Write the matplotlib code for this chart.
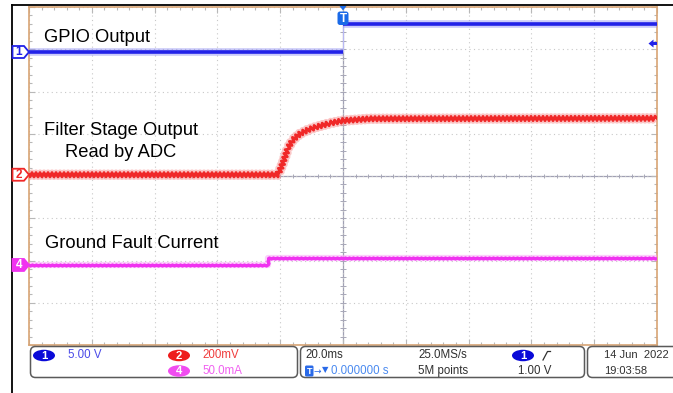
import matplotlib
matplotlib.use('Agg')
import matplotlib.pyplot as plt
import numpy as np
from matplotlib.patches import FancyBboxPatch, Polygon, Ellipse, Rectangle

# ---------------- data ----------------
ch1_time_ms = [-100.0, 0.0, 100.0]          # GPIO output (step at trigger)
ch1_volts = [0.0, 3.3, 3.3]

ch2_time_ms = [-100.0, -20.7, -19.1, -17.5, -15.9, -13.7, -11.1, -8.3, -4.1, 0.0, 8.6, 100.0]
ch2_mv = [0.0, 0.0, 57.0, 128.0, 166.0, 194.0, 213.0, 227.0, 244.0, 256.0, 265.0, 267.0]

ch4_time_ms = [-100.0, -23.9, 100.0]        # ground fault current
ch4_ma = [0.0, 7.7, 7.7]

time_per_div_ms = 20.0
ch1_v_per_div = 5.0
ch2_mv_per_div = 200.0
ch4_ma_per_div = 50.0
ch1_pos_div = 2.935
ch2_pos_div = 0.03
ch4_pos_div = -2.106
trigger_level_v = 1.0

W, H = 673, 393
BLUE = '#2222e8'
RED = '#f02828'
MAG = '#f032f0'
FONT = 'Liberation Sans'

fig = plt.figure(figsize=(W / 100, H / 100), dpi=100)
fig.patch.set_facecolor('white')

# ---------------- graticule ----------------
gl, gr, gt, gb = 29, 657, 7, 345
ax = fig.add_axes([gl / W, (H - gb) / H, (gr - gl) / W, (gb - gt) / H])
ax.set_xlim(-5 * time_per_div_ms, 5 * time_per_div_ms)
ax.set_ylim(-4, 4)
ax.set_xticks(np.arange(-5, 6) * time_per_div_ms)
ax.set_yticks(np.arange(-4, 5))
ax.set_xticks(np.arange(-25, 26) * time_per_div_ms / 5, minor=True)
ax.set_yticks(np.arange(-20, 21) / 5, minor=True)
ax.tick_params(which='both', direction='in', top=True, right=True,
               labelbottom=False, labelleft=False, color='#b8b8b8', width=0.8)
ax.tick_params(which='major', length=4)
ax.tick_params(which='minor', length=2)
ax.grid(True, which='major', color='#c8c8c8', ls=(0, (1, 3)), lw=0.8)
for s in ax.spines.values():
    s.set_color('#d8a474')
    s.set_linewidth(1.2)

ax.axhline(0, color='#a0a0b4', lw=0.9, zorder=1)
ax.axvline(0, color='#a0a0b4', lw=0.9, zorder=1)
ax.vlines(np.arange(-25, 26) * time_per_div_ms / 5, -0.05, 0.05, color='#a8a8b8', lw=0.7)
ax.hlines(np.arange(-20, 21) / 5, -0.8, 0.8, color='#a8a8b8', lw=0.7)

# ---------------- traces ----------------
y1 = ch1_pos_div + np.array(ch1_volts) / ch1_v_per_div
y2 = ch2_pos_div + np.array(ch2_mv) / ch2_mv_per_div
y4 = ch4_pos_div + np.array(ch4_ma) / ch4_ma_per_div

# channel 1: each level held until the next sample time, faint edge between
ax.hlines(y1[:-1], ch1_time_ms[:-1], ch1_time_ms[1:], color='#8c8cf4', lw=5.5, alpha=0.45, zorder=3)
ax.hlines(y1[:-1], ch1_time_ms[:-1], ch1_time_ms[1:], color=BLUE, lw=2.6, zorder=4)
ax.vlines(ch1_time_ms[1:-1], y1[:-2], y1[1:-1], color='#b8b8f4', lw=0.8, zorder=2)

h2 = ax.plot(ch2_time_ms, y2, color='#f89090', lw=4.5, alpha=0.5, zorder=3)[0]
l2 = ax.plot(ch2_time_ms, y2, color=RED, lw=2.0, zorder=4)[0]
h2.set_sketch_params(scale=2.2, length=4, randomness=1.0)
l2.set_sketch_params(scale=2.2, length=4, randomness=1.0)

h4 = ax.plot(ch4_time_ms, y4, drawstyle='steps-post', color='#f8a0f8', lw=4.5, alpha=0.5, zorder=3)[0]
l4 = ax.plot(ch4_time_ms, y4, drawstyle='steps-post', color=MAG, lw=2.2, zorder=4)[0]
l4.set_sketch_params(scale=0.6, length=4, randomness=1.0)

# ---------------- overlay (pixel coordinates) ----------------
ov = fig.add_axes([0, 0, 1, 1])
ov.set_xlim(0, W)
ov.set_ylim(H, 0)
ov.axis('off')
ov.patch.set_alpha(0)


def to_px(x, y):
    d = ax.transData.transform((x, y))
    return ov.transData.inverted().transform(d)


# outer black lines
ov.plot([11.5, 11.5], [5, H], color='black', lw=1.3)
ov.plot([11.5, W], [5, 5], color='black', lw=1.3)

# channel markers on the left
def ch_marker(pos_div, color, label, filled):
    _, yc = to_px(0, pos_div)
    pts = [(12.5, yc - 6), (24, yc - 6), (29, yc), (24, yc + 6), (12.5, yc + 6)]
    ov.add_patch(Polygon(pts, closed=True, facecolor=color if filled else 'white',
                         edgecolor=color, lw=1.3, zorder=6))
    ov.text(19, yc + 0.5, label, color='white' if filled else color, fontsize=8.5,
            fontweight='bold', ha='center', va='center', family=FONT, zorder=7)


ch_marker(ch1_pos_div, BLUE, '1', False)
ch_marker(ch2_pos_div, RED, '2', False)
ch_marker(ch4_pos_div, MAG, '4', True)

# trigger position marker (top)
tx, _ = to_px(0, 0)
ov.add_patch(Polygon([(tx - 3.5, 6), (tx + 3.5, 6), (tx, 10.5)], closed=True,
                     facecolor='#1a6ae8', edgecolor='none', zorder=6))
ov.add_patch(FancyBboxPatch((tx - 5.5, 11.5), 11, 13.5, boxstyle='round,pad=0,rounding_size=2.5',
                            facecolor='#1a6ae8', edgecolor='none', zorder=6))
ov.text(tx, 18.5, 'T', color='white', fontsize=8.5, fontweight='bold', ha='center',
        va='center', family=FONT, zorder=7)

# trigger level marker (right)
_, ty = to_px(0, ch1_pos_div + trigger_level_v / ch1_v_per_div)
ov.add_patch(Polygon([(648.5, ty), (653.5, ty - 4), (653.5, ty + 4)], closed=True,
                     facecolor=BLUE, edgecolor='none', zorder=6))
ov.add_patch(Rectangle((653, ty - 1.5), 3.5, 3, facecolor=BLUE, edgecolor='none', zorder=6))

# annotations
afs = 13.2
ov.text(44, 37.5, 'GPIO Output', fontsize=afs, family=FONT, ha='left', va='center', color='black')
ov.text(121, 130.5, 'Filter Stage Output', fontsize=afs, family=FONT, ha='center', va='center', color='black')
ov.text(121, 152.5, 'Read by ADC', fontsize=afs, family=FONT, ha='center', va='center', color='black')
ov.text(45, 244, 'Ground Fault Current', fontsize=afs, family=FONT, ha='left', va='center', color='black')

# ---------------- bottom info panel ----------------
for (x0, w) in [(30.5, 267), (300.5, 284), (587.5, 110)]:
    ov.add_patch(FancyBboxPatch((x0, 346.5), w, 31, boxstyle='round,pad=0,rounding_size=5',
                                facecolor='white', edgecolor='#5a5a5a', lw=1.1))

def oval(xc, yc, color, label):
    ov.add_patch(Ellipse((xc, yc), 22, 11.5, facecolor=color, edgecolor='none'))
    ov.text(xc, yc + 0.3, label, color='white', fontsize=8.2, fontweight='bold', ha='center',
            va='center', family=FONT)

fs = 8.3
oval(44, 355.5, '#0a0ad8', '1')
ov.text(68, 355.5, '5.00 V', color='#4a4ae8', fontsize=fs, family=FONT, va='center')
oval(179, 355.5, '#ee1c1c', '2')
ov.text(202, 355.5, '200mV', color='#f03c3c', fontsize=fs, family=FONT, va='center')
oval(179, 371, '#f04cf0', '4')
ov.text(202, 371, '50.0mA', color='#f060f0', fontsize=fs, family=FONT, va='center')

ov.text(305, 355.5, '20.0ms', color='#303030', fontsize=fs, family=FONT, va='center')
ov.add_patch(FancyBboxPatch((305, 365.5), 8.5, 11, boxstyle='round,pad=0,rounding_size=1.5',
                            facecolor='#2a6ae8', edgecolor='none'))
ov.text(309.3, 371.3, 'T', color='white', fontsize=6.5, fontweight='bold', ha='center', va='center', family=FONT)
ov.text(314, 371, '→', color='#2a6ae8', fontsize=6.5, family='DejaVu Sans', va='center')
ov.text(321.5, 370, '▼', color='#2a6ae8', fontsize=6, family='DejaVu Sans', va='center')
ov.text(331, 371, '0.000000 s', color='#4a8af0', fontsize=fs, family=FONT, va='center')

ov.text(418, 355.5, '25.0MS/s', color='#303030', fontsize=fs, family=FONT, va='center')
ov.text(418, 371, '5M points', color='#303030', fontsize=fs, family=FONT, va='center')
oval(523, 355.5, '#0a0ad8', '1')
ov.plot([543, 547.5, 550.5], [360, 351.5, 351.5], color='#303030', lw=0.9)
ov.text(518, 371, '1.00 V', color='#303030', fontsize=fs, family=FONT, va='center')

ov.text(604, 355.5, '14 Jun  2022', color='#303030', fontsize=8.0, family=FONT, va='center')
ov.text(604, 371, '19:03:58', color='#303030', fontsize=8.0, family=FONT, va='center')

fig.savefig('out.png', dpi=100, facecolor='white')
